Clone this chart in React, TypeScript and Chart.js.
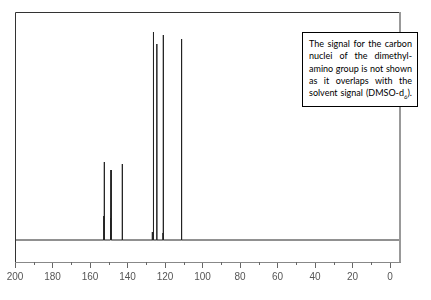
import React, { useEffect, useRef } from "react";
import { Chart, registerables } from "chart.js";

Chart.register(...registerables);

// chemical shifts (ppm) and relative peak heights (baseline = 0)
const peakShifts = [152.7, 152.4, 149.1, 148.8, 142.8, 126.8, 126.2, 124.4, 121.1, 120.9, 111.3, 111.1];
const peakHeights = [24, 78, 22, 70, 76, 8, 208, 196, 7, 205, 61, 201];
const axisMin = -5.3;
const axisMax = 200;
const majorTicks = [200, 180, 160, 140, 120, 100, 80, 60, 40, 20, 0];
const minorTicks = [190, 170, 150, 130, 110, 90, 70, 50, 30, 10];
const noteLines = [
  "The signal for the carbon",
  "nuclei of the dimethyl-",
  "amino group is not shown",
  "as it overlaps with the",
];

function buildSpectrum() {
  const order = peakShifts.map((_, i) => i).sort((a, b) => peakShifts[b] - peakShifts[a]);
  const pts: { x: number; y: number }[] = [{ x: axisMax, y: 0 }];
  const w = 0.08;
  for (const i of order) {
    pts.push({ x: peakShifts[i] + w, y: 0 });
    pts.push({ x: peakShifts[i], y: peakHeights[i] });
    pts.push({ x: peakShifts[i] - w, y: 0 });
  }
  pts.push({ x: axisMin, y: 0 });
  return pts;
}

const framePlugin = {
  id: "frame",
  afterDraw(chart: any) {
    const { ctx, chartArea } = chart;
    const { left, right, top, bottom } = chartArea;
    const xs = chart.scales.x;
    ctx.save();
    ctx.lineWidth = 1;
    ctx.strokeStyle = "#333";
    ctx.beginPath();
    ctx.moveTo(left + 0.5, bottom);
    ctx.lineTo(left + 0.5, top + 0.5);
    ctx.lineTo(right, top + 0.5);
    ctx.stroke();
    ctx.strokeStyle = "#999";
    ctx.lineWidth = 2;
    ctx.beginPath();
    ctx.moveTo(right, top);
    ctx.lineTo(right, bottom);
    ctx.stroke();
    ctx.lineWidth = 1;
    ctx.strokeStyle = "#666";
    for (const v of minorTicks) {
      const x = Math.round(xs.getPixelForValue(v)) + 0.5;
      ctx.beginPath();
      ctx.moveTo(x, bottom);
      ctx.lineTo(x, bottom + 3);
      ctx.stroke();
    }
    ctx.restore();
  },
};

export default function App() {
  const ref = useRef<HTMLCanvasElement | null>(null);
  useEffect(() => {
    if (!ref.current) return;
    const chart = new Chart(ref.current, {
      type: "line",
      data: {
        datasets: [
          {
            data: buildSpectrum(),
            borderColor: "#222",
            borderWidth: 1,
            pointRadius: 0,
            tension: 0,
            fill: false,
          },
        ],
      },
      options: {
        animation: false,
        responsive: false,
        maintainAspectRatio: false,
        layout: { autoPadding: false, padding: { left: 15, right: 31, top: 12, bottom: 0 } },
        plugins: { legend: { display: false }, tooltip: { enabled: false }, title: { display: false } },
        scales: {
          x: {
            type: "linear",
            reverse: true,
            min: axisMin,
            max: axisMax,
            afterFit: (s: any) => {
              s.height = 38;
            },
            afterBuildTicks: (s: any) => {
              s.ticks = majorTicks.map((v) => ({ value: v }));
            },
            ticks: {
              autoSkip: false,
              maxRotation: 0,
              padding: 3,
              color: "#555",
              font: { family: "Liberation Sans", size: 10 },
              callback: (v: any) => String(v),
            },
            grid: {
              drawOnChartArea: false,
              drawTicks: true,
              tickLength: 6,
              color: "#666",
            },
            border: { display: true, color: "#888", width: 1 },
          },
          y: {
            display: false,
            min: -22,
            max: 228,
          },
        },
      },
      plugins: [framePlugin],
    });
    return () => chart.destroy();
  }, []);

  const lineStyle: React.CSSProperties = {
    textAlign: "justify",
    textAlignLast: "justify" as any,
    whiteSpace: "nowrap",
    height: 12.3,
  };

  return (
    <div style={{ position: "absolute", left: 0, top: 0, width: 431, height: 300, background: "#fff" }}>
      <canvas ref={ref} width={431} height={300} style={{ display: "block", width: 431, height: 300 }} />
      <div
        style={{
          position: "absolute",
          left: 302,
          top: 32,
          width: 116,
          height: 75,
          boxSizing: "border-box",
          border: "1px solid #000",
          background: "#fff",
          padding: "5px 5px 0 6px",
          fontFamily: "Lato, 'Open Sans', sans-serif",
          fontSize: 9,
          lineHeight: "12.3px",
          color: "#000",
        }}
      >
        {noteLines.map((t) => (
          <div key={t} style={lineStyle}>
            {t}
          </div>
        ))}
        <div style={lineStyle}>
          solvent signal (DMSO-d<sub style={{ fontSize: 6, lineHeight: 0 }}>6</sub>).
        </div>
      </div>
    </div>
  );
}
